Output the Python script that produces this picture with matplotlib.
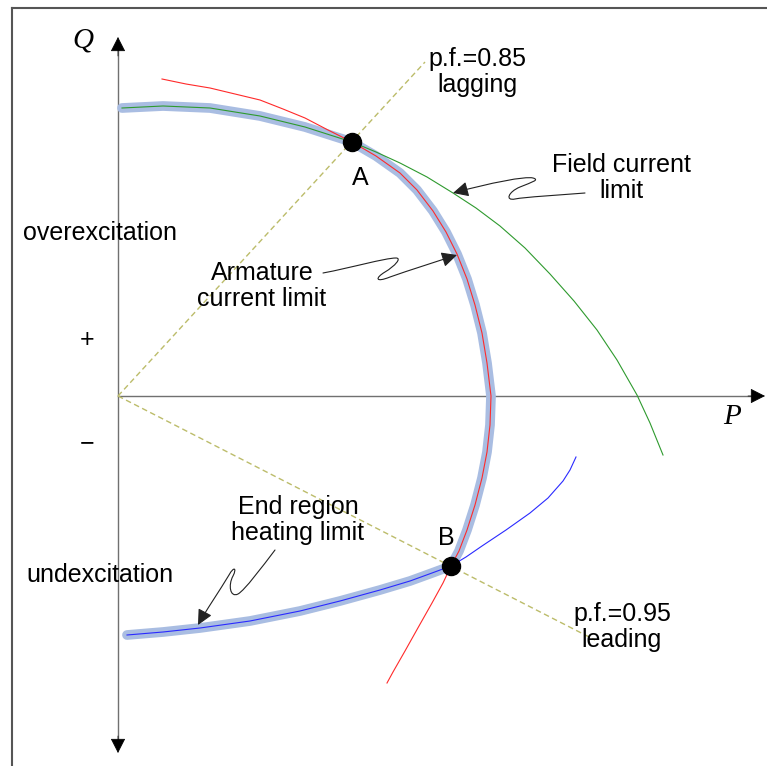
import matplotlib
matplotlib.use("Agg")
import matplotlib.pyplot as plt
from matplotlib.path import Path
from matplotlib.patches import FancyArrowPatch

# capability curve points (P, Q)
arm_P = [0.44, 0.68, 0.92, 1.17, 1.42, 1.65, 1.87, 2.10, 2.34, 2.58, 2.82, 2.99, 3.15, 3.28,
         3.39, 3.49, 3.57, 3.64, 3.69, 3.73, 3.72, 3.69, 3.64, 3.57, 3.49, 3.41, 3.33, 3.25,
         3.14, 3.01, 2.87, 2.75, 2.69]
arm_Q = [3.17, 3.12, 3.08, 3.02, 2.96, 2.87, 2.78, 2.66, 2.54, 2.40, 2.23, 2.06, 1.85, 1.64,
         1.42, 1.17, 0.91, 0.63, 0.33, 0.00, -0.29, -0.56, -0.82, -1.09, -1.34, -1.55, -1.70,
         -1.87, -2.07, -2.30, -2.55, -2.76, -2.87]

fld_P = [0.04, 0.45, 0.92, 1.42, 1.87, 2.34, 2.58, 2.82, 3.09, 3.35, 3.58, 3.82, 4.07, 4.32,
         4.56, 4.79, 4.99, 5.19, 5.32, 5.45]
fld_Q = [2.88, 2.90, 2.88, 2.80, 2.69, 2.54, 2.44, 2.33, 2.19, 2.03, 1.88, 1.70, 1.48, 1.22,
         0.95, 0.66, 0.36, 0.01, -0.27, -0.59]

end_P = [0.09, 0.45, 0.82, 1.32, 1.82, 2.22, 2.62, 2.92, 3.14, 3.33, 3.48, 3.64, 3.88, 4.12,
         4.30, 4.45, 4.52, 4.58]
end_Q = [-2.39, -2.36, -2.32, -2.25, -2.15, -2.05, -1.94, -1.85, -1.77, -1.70, -1.61, -1.50,
         -1.34, -1.17, -1.02, -0.85, -0.74, -0.61]

# operating points and power factor lines
pt_A = (2.34, 2.54)
pt_B = (3.33, -1.70)
pf_lag_end = (3.07, 3.34)
pf_lead_end = (4.77, -2.44)

fig = plt.figure(figsize=(7.67, 7.66), dpi=100)
ax = fig.add_axes([12 / 767, 0, 755 / 767, 758 / 766])
ax.set_xlim(-1.06, 6.49)
ax.set_ylim(-3.70, 3.88)
ax.set_xticks([])
ax.set_yticks([])
for s in ["right", "bottom"]:
    ax.spines[s].set_visible(False)
for s in ["left", "top"]:
    ax.spines[s].set_color("#555555")
    ax.spines[s].set_linewidth(1.5)

# axes of the P-Q plane
ax.plot([0, 0], [-3.45, 3.46], color="#707070", lw=1.0, zorder=1)
ax.plot([0, 6.35], [0, 0], color="#707070", lw=1.0, zorder=1)
hs = "-|>,head_length=0.55,head_width=0.28"
for a, b in [((0, 3.40), (0, 3.59)), ((0, -3.40), (0, -3.57)), ((6.30, 0), (6.47, 0))]:
    ax.add_patch(FancyArrowPatch(a, b, arrowstyle=hs, mutation_scale=17, color="black",
                                 lw=0.5, shrinkA=0, shrinkB=0, zorder=3))

# power factor lines
pf_kw = dict(color="#bcbc6a", lw=1.0, dashes=(4, 2.5), zorder=2)
ax.plot([0, pf_lag_end[0]], [0, pf_lag_end[1]], **pf_kw)
ax.plot([0, pf_lead_end[0]], [0, pf_lead_end[1]], **pf_kw)

# highlighted operating region boundary
iA_f, iA_a = fld_P.index(pt_A[0]), arm_P.index(pt_A[0])
iB_a, iB_e = arm_P.index(pt_B[0]), end_P.index(pt_B[0])
hl_P = fld_P[:iA_f + 1] + arm_P[iA_a + 1:iB_a + 1] + end_P[:iB_e][::-1]
hl_Q = fld_Q[:iA_f + 1] + arm_Q[iA_a + 1:iB_a + 1] + end_Q[:iB_e][::-1]
ax.plot(hl_P, hl_Q, color="#a9bde2", lw=7, solid_capstyle="round",
        solid_joinstyle="round", zorder=3)

line_kw = dict(lw=0.8, zorder=4, solid_joinstyle="round")
ax.plot(fld_P, fld_Q, color="#2e9a2e", **line_kw)
ax.plot(arm_P, arm_Q, color="#ff2a2a", **line_kw)
ax.plot(end_P, end_Q, color="#2a2aff", **line_kw)

ax.plot(*pt_A, "o", color="black", ms=13, zorder=6)
ax.plot(*pt_B, "o", color="black", ms=13, zorder=6)

# squiggly callout arrows
def squiggle(pts):
    codes = [Path.MOVETO] + [Path.CURVE4] * (len(pts) - 1)
    p = FancyArrowPatch(path=Path(pts, codes), arrowstyle="-|>,head_length=0.55,head_width=0.27",
                        mutation_scale=17, color="#222222", lw=0.8, shrinkA=0, shrinkB=0, zorder=5)
    ax.add_patch(p)

squiggle([(4.67, 2.03), (4.42, 2.01), (4.07, 1.99), (3.97, 1.97),
          (3.87, 1.95), (3.90, 2.04), (4.02, 2.09),
          (4.14, 2.14), (4.22, 2.16), (4.15, 2.18),
          (4.07, 2.20), (3.72, 2.13), (3.35, 2.03)])
squiggle([(2.05, 1.23), (2.32, 1.28), (2.67, 1.38), (2.78, 1.38),
          (2.84, 1.38), (2.77, 1.30), (2.67, 1.24),
          (2.57, 1.18), (2.57, 1.13), (2.72, 1.19),
          (2.92, 1.26), (3.17, 1.34), (3.39, 1.41)])
squiggle([(1.57, -1.54), (1.44, -1.71), (1.27, -1.94), (1.20, -1.98),
          (1.12, -2.02), (1.10, -1.89), (1.15, -1.80),
          (1.19, -1.72), (1.16, -1.70), (1.11, -1.79),
          (1.02, -1.94), (0.87, -2.16), (0.80, -2.29)])

# text
sans = dict(family=["Liberation Sans", "DejaVu Sans"], fontsize=18, ha="center", va="center",
            linespacing=1.15, zorder=7)
serif = dict(family=["Liberation Serif", "DejaVu Serif"], style="italic", fontsize=21,
             ha="center", va="center")
ax.text(-0.35, 3.56, "Q", **serif)
ax.text(6.14, -0.21, "P", **serif)
ax.text(3.59, 3.24, "p.f.=0.85\nlagging", **sans)
ax.text(2.42, 2.18, "A", **sans)
ax.text(5.03, 2.18, "Field current\nlimit", **sans)
ax.text(1.44, 1.10, "Armature\ncurrent limit", **sans)
ax.text(-0.18, 1.63, "overexcitation", **sans)
ax.text(-0.31, 0.56, "+", **sans)
ax.text(-0.31, -0.47, "\u2212", **sans)
ax.text(-0.18, -1.79, "undexcitation", **sans)
ax.text(1.80, -1.24, "End region\nheating limit", **sans)
ax.text(3.28, -1.42, "B", **sans)
ax.text(5.04, -2.31, "p.f.=0.95\nleading", **sans)

fig.savefig("out.png", dpi=100)
